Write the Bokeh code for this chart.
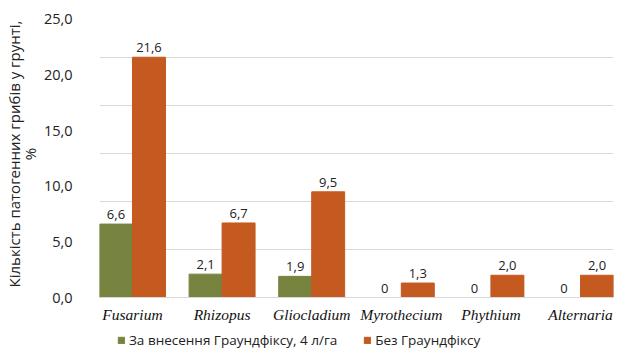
from bokeh.plotting import figure
from bokeh.models import (ColumnDataSource, FixedTicker, Range1d, Legend, LabelSet)
from bokeh.layouts import column
from bokeh.core.properties import value
from bokeh.embed import file_html
from bokeh.resources import INLINE

categories = ["Fusarium", "Rhizopus", "Gliocladium", "Myrothecium", "Phythium", "Alternaria"]
with_groundfix = [6.6, 2.1, 1.9, 0, 0, 0]
with_labels = ["6,6", "2,1", "1,9", "0", "0", "0"]
without_groundfix = [21.6, 6.7, 9.5, 1.3, 2.0, 2.0]
without_labels = ["21,6", "6,7", "9,5", "1,3", "2,0", "2,0"]
series_names = ["За внесення Граундфіксу, 4 л/га", "Без Граундфіксу"]
y_ticks = [0, 5, 10, 15, 20, 25]
y_tick_labels = ["0,0", "5,0", "10,0", "15,0", "20,0", "25,0"]
grid_levels = [4.32, 8.64, 12.96, 17.28, 21.6]

GREEN = "#76843f"
ORANGE = "#c45a20"
BAR_W = 0.368
lab_font = "Open Sans"

idx = list(range(len(categories)))
src_a = ColumnDataSource(dict(x=[i - BAR_W / 2 for i in idx], top=with_groundfix, lab=with_labels))
src_b = ColumnDataSource(dict(x=[i + BAR_W / 2 for i in idx], top=without_groundfix, lab=without_labels))

p = figure(frame_width=514, frame_height=287, output_backend="svg", toolbar_location=None,
           x_range=Range1d(-BAR_W, len(categories) - 1 + BAR_W),
           y_range=Range1d(0, 25.8),
           min_border_left=98, min_border_right=16, min_border_top=10, min_border_bottom=30)
p.outline_line_color = None
p.background_fill_color = "white"

p.vbar(x="x", top="top", width=BAR_W, source=src_a, fill_color=GREEN, line_color=GREEN)
p.vbar(x="x", top="top", width=BAR_W, source=src_b, fill_color=ORANGE, line_color=ORANGE)

for src in (src_a, src_b):
    ls = LabelSet(x="x", y="top", text="lab", source=src, text_align="center",
                  text_baseline="bottom", y_offset=5, text_font_size="13px",
                  text_font=value(lab_font), text_color="#222222")
    p.add_layout(ls)

for ax in (p.xaxis, p.yaxis):
    ax.major_tick_out = 0
    ax.major_tick_in = 0
    ax.minor_tick_out = 0
    ax.minor_tick_in = 0
    ax.major_tick_line_color = None
    ax.minor_tick_line_color = None

# x axis
p.xaxis.ticker = FixedTicker(ticks=idx)
p.xaxis.major_label_overrides = {i: c for i, c in zip(idx, categories)}
p.xaxis.major_label_text_font = "Liberation Serif"
p.xaxis.major_label_text_font_style = "italic"
p.xaxis.major_label_text_font_size = "15.5px"
p.xaxis.major_label_text_color = "#111111"
p.xaxis.major_label_standoff = 8
p.xaxis.axis_line_color = "#d9d9d9"
p.xgrid.grid_line_color = None

# y axis
p.yaxis.ticker = FixedTicker(ticks=y_ticks)
p.yaxis.major_label_overrides = {t: l for t, l in zip(y_ticks, y_tick_labels)}
p.yaxis.major_label_text_font = lab_font
p.yaxis.major_label_text_font_size = "14.5px"
p.yaxis.major_label_text_color = "#222222"
p.yaxis.major_label_standoff = 27
p.yaxis.axis_line_color = None
p.yaxis.axis_label = "Кількість патогенних грибів у грунті,\n%"
p.yaxis.axis_label_text_font = lab_font
p.yaxis.axis_label_text_font_style = "normal"
p.yaxis.axis_label_text_font_size = "15px"
p.yaxis.axis_label_text_line_height = 0.8
p.yaxis.axis_label_text_color = "#222222"
p.yaxis.axis_label_standoff = 1
p.ygrid.ticker = FixedTicker(ticks=grid_levels)
p.ygrid.grid_line_color = "#d9d9d9"

# legend strip below the chart (bars drawn outside its visible range; only the legend shows)
p2 = figure(width=628, height=24, output_backend="svg", toolbar_location=None,
            x_range=Range1d(100, 101), y_range=Range1d(100, 101),
            min_border_left=0, min_border_right=0, min_border_top=0, min_border_bottom=0)
p2.axis.visible = False
p2.grid.visible = False
p2.outline_line_color = None
g1 = p2.vbar(x="x", top="top", width=BAR_W, source=src_a, fill_color=GREEN, line_color=GREEN)
g2 = p2.vbar(x="x", top="top", width=BAR_W, source=src_b, fill_color=ORANGE, line_color=ORANGE)
legend = Legend(items=[(series_names[0], [g1]), (series_names[1], [g2])],
                orientation="horizontal", location=(18, 2),
                label_text_font=lab_font, label_text_font_size="13.5px", label_text_color="#222222",
                glyph_width=8, glyph_height=8, label_standoff=4, spacing=26,
                border_line_color=None, background_fill_alpha=0, padding=0, margin=0)
p2.add_layout(legend, "center")

layout = column(p, p2, spacing=0)
open("out.html", "w").write(file_html(layout, INLINE))
